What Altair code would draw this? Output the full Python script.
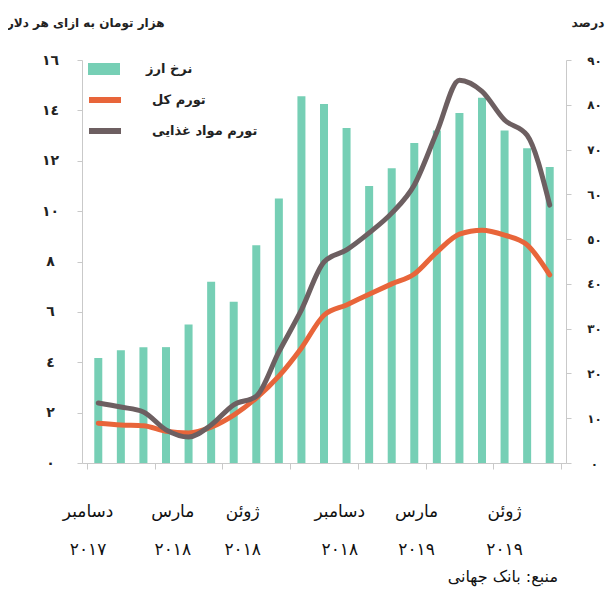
import altair as alt
import pandas as pd

# ---- data ----
months = list(range(21))  # Dec 2017 .. Aug 2019
exchange_rate = [4.17, 4.48, 4.6, 4.6, 5.5, 7.2, 6.4, 8.65, 10.5, 14.56, 14.25, 13.3,
                 11.0, 11.7, 12.7, 13.2, 13.9, 14.5, 13.2, 12.5, 11.75]
inflation_total = [8.9, 8.5, 8.3, 7.1, 6.7, 8.0, 10.7, 14.5, 19.4, 25.7, 33.0, 35.3,
                   37.7, 40.0, 42.2, 47.1, 51.1, 52.0, 50.9, 48.7, 42.0]
inflation_food = [13.4, 12.5, 11.4, 7.4, 5.8, 8.5, 13.0, 14.9, 24.8, 34.2, 44.9, 47.6,
                  51.4, 55.8, 62.1, 73.9, 85.5, 83.0, 76.6, 73.2, 57.6]

series_bar = "نرخ ارز"
series_lines = ["تورم کل", "تورم مواد غذایی"]

label_pos = [-0.45, 3.3, 6.4, 10.7, 14.1, 18.0]
label_month = ["دسامبر", "مارس", "ژوئن", "دسامبر", "مارس", "ژوئن"]
label_year = ["۲۰۱۷", "۲۰۱۸", "۲۰۱۸", "۲۰۱۸", "۲۰۱۹", "۲۰۱۹"]

left_ticks = [0, 2, 4, 6, 8, 10, 12, 14, 16]
right_ticks = [0, 10, 20, 30, 40, 50, 60, 70, 80, 90]
x_ticks = [-0.5, 2.5, 5.5, 8.5, 11.5, 14.5, 17.5, 20.5]

left_title = "هزار تومان به ازای هر دلار"
right_title = "درصد"
source = "منبع: بانک جهانی"

# ---- styling ----
FONT = "DejaVu Sans"
TEAL = "#76CFB5"
ORANGE = "#E8653A"
BROWN = "#6D5F61"
AXIS_GREY = "#c9c9c9"
W, H = 484, 403

AR = "٠١٢٣٤٥٦٧٨٩"


def ar_digits(n):
    return "".join(AR[int(c)] for c in str(n))


def label_expr(vals):
    parts = [f"datum.value == {v} ? '{ar_digits(v)}'" for v in vals]
    return " : ".join(parts) + " : ''"


bar_df = pd.DataFrame({"idx": months, "rate": exchange_rate, "s": series_bar})
line_df = pd.concat([
    pd.DataFrame({"idx": months, "val": inflation_total, "series": series_lines[0]}),
    pd.DataFrame({"idx": months, "val": inflation_food, "series": series_lines[1]}),
])
lab_df = pd.DataFrame({"pos": label_pos, "m": label_month, "y": label_year})

x_scale = alt.Scale(domain=[-0.5, 20.5], nice=False, zero=False)
x_axis = alt.Axis(values=x_ticks, labels=False, title=None, grid=False,
                  tickSize=6, domainColor=AXIS_GREY, tickColor=AXIS_GREY)

bars = alt.Chart(bar_df).mark_bar(size=8).encode(
    x=alt.X("idx:Q", scale=x_scale, axis=x_axis),
    y=alt.Y("rate:Q", scale=alt.Scale(domain=[0, 16], nice=False),
            axis=alt.Axis(values=left_ticks, labelExpr=label_expr(left_ticks),
                          grid=False, tickSize=5, labelAlign="center", labelPadding=27,
                          labelFontSize=14, labelFontWeight="bold", labelColor="#222",
                          domainColor=AXIS_GREY, tickColor=AXIS_GREY,
                          title=left_title, titleAngle=0, titleX=82, titleY=-38,
                          titleAlign="right", titleBaseline="middle",
                          titleFontSize=12, titleFontWeight="bold", titleColor="#222")),
    fill=alt.Fill("s:N", scale=alt.Scale(domain=[series_bar], range=[TEAL]),
                  legend=alt.Legend(orient="none", legendX=6, legendY=-7, title=None,
                                    symbolType="M-1,-0.375H1V0.375H-1Z", symbolSize=1024,
                                    symbolStrokeWidth=0, labelFontSize=13,
                                    labelFontWeight="bold", labelOffset=26, padding=0,
                                    labelColor="#222")),
)

lines = alt.Chart(line_df).mark_line(interpolate="monotone", strokeWidth=5, strokeCap="round").encode(
    x=alt.X("idx:Q", scale=x_scale, axis=x_axis),
    y=alt.Y("val:Q", scale=alt.Scale(domain=[0, 90], nice=False),
            axis=alt.Axis(orient="right", values=right_ticks, labelExpr=label_expr(right_ticks),
                          grid=False, tickSize=5, labelAlign="center", labelPadding=23,
                          labelFontSize=12, labelFontWeight="bold", labelColor="#222",
                          domainColor=AXIS_GREY, tickColor=AXIS_GREY,
                          title=right_title, titleAngle=0, titleX=38, titleY=-38,
                          titleAlign="right", titleBaseline="middle",
                          titleFontSize=12.5, titleFontWeight="bold", titleColor="#222")),
    stroke=alt.Stroke("series:N", scale=alt.Scale(domain=series_lines, range=[ORANGE, BROWN]),
                      legend=alt.Legend(orient="none", legendX=4, legendY=21, title=None,
                                        symbolType="stroke", symbolSize=1024,
                                        symbolStrokeWidth=6, rowPadding=-10,
                                        labelFontSize=13, labelFontWeight="bold",
                                        labelOffset=28, padding=0, labelColor="#222")),
    detail="series:N",
)

months_txt = alt.Chart(lab_df).mark_text(fontSize=17, baseline="middle", dy=49, color="#111").encode(
    x=alt.X("pos:Q", scale=x_scale, axis=x_axis),
    y=alt.value(H),
    text="m:N",
)
years_txt = alt.Chart(lab_df).mark_text(fontSize=17, baseline="middle", dy=87, color="#111").encode(
    x=alt.X("pos:Q", scale=x_scale, axis=x_axis),
    y=alt.value(H),
    text="y:N",
)

chart = alt.layer(bars, lines, months_txt, years_txt).resolve_scale(
    y="independent", fill="independent", stroke="independent"
).properties(
    width=W, height=H,
    autosize=alt.AutoSizeParams(type="none"),
    padding={"left": 74, "top": 52, "right": 39, "bottom": 129},
    title=alt.TitleParams(text=source, orient="bottom", anchor="end", frame="group",
                          fontSize=16, fontWeight="normal", color="#111", offset=11, dx=-8),
).configure(font=FONT).configure_view(stroke=None)

chart.save("out.html", embed_options={"renderer": "svg", "actions": False})
